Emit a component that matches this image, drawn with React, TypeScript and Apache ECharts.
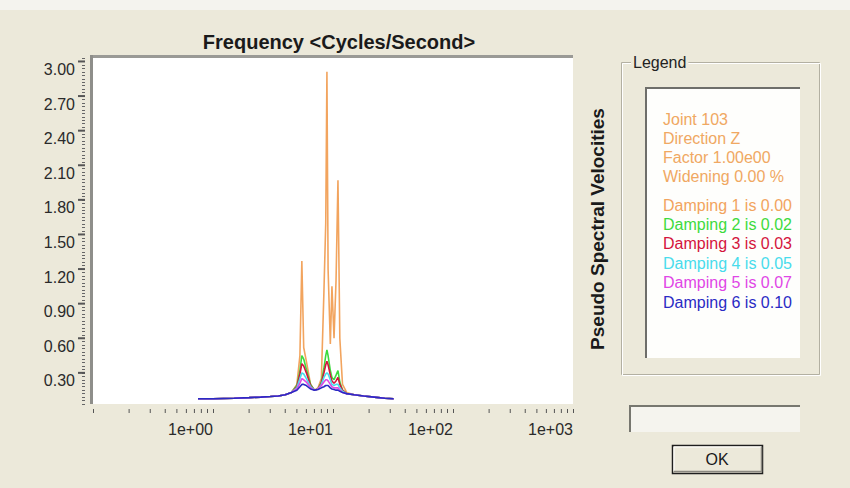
import React, { useEffect, useRef } from "react";
import * as echarts from "echarts";

// ---- data ----
const frequencies = [0.75, 1.0, 1.5, 2.0, 2.5, 3.0, 3.5, 4.0, 4.5, 5.0, 5.3, 5.5, 5.7, 6.0, 6.5, 7.0, 7.5, 8.0, 8.4, 8.7, 8.9, 9.1, 9.5, 9.8, 10.2, 10.6, 11.0, 11.4, 12, 13, 15, 18, 22, 27, 32];
const damping1 = [0.075, 0.075, 0.08, 0.085, 0.09, 0.095, 0.1, 0.11, 0.13, 0.2, 0.45, 1.27, 0.52, 0.4, 0.2, 0.15, 0.17, 0.25, 1.0, 1.6, 2.91, 1.2, 0.55, 1.05, 0.6, 1.1, 1.97, 0.6, 0.2, 0.13, 0.11, 0.1, 0.09, 0.08, 0.075];
const damping2 = [0.075, 0.075, 0.08, 0.085, 0.09, 0.095, 0.1, 0.11, 0.13, 0.19, 0.32, 0.45, 0.42, 0.33, 0.2, 0.15, 0.16, 0.22, 0.34, 0.45, 0.5, 0.45, 0.32, 0.26, 0.24, 0.28, 0.32, 0.22, 0.15, 0.12, 0.11, 0.1, 0.09, 0.08, 0.075];
const damping3 = [0.075, 0.075, 0.08, 0.085, 0.09, 0.095, 0.1, 0.11, 0.13, 0.18, 0.29, 0.38, 0.36, 0.3, 0.19, 0.15, 0.16, 0.21, 0.3, 0.37, 0.4, 0.37, 0.28, 0.23, 0.21, 0.23, 0.26, 0.2, 0.15, 0.12, 0.11, 0.1, 0.09, 0.08, 0.075];
const damping4 = [0.075, 0.075, 0.08, 0.085, 0.09, 0.095, 0.1, 0.11, 0.13, 0.17, 0.25, 0.3, 0.29, 0.25, 0.18, 0.15, 0.16, 0.2, 0.26, 0.29, 0.3, 0.29, 0.24, 0.2, 0.19, 0.2, 0.2, 0.17, 0.14, 0.12, 0.11, 0.1, 0.09, 0.08, 0.075];
const damping5 = [0.075, 0.075, 0.08, 0.085, 0.09, 0.095, 0.1, 0.11, 0.13, 0.16, 0.21, 0.25, 0.24, 0.22, 0.17, 0.15, 0.16, 0.19, 0.22, 0.24, 0.24, 0.23, 0.2, 0.18, 0.17, 0.17, 0.17, 0.15, 0.13, 0.12, 0.11, 0.1, 0.09, 0.08, 0.075];
const damping6 = [0.075, 0.075, 0.08, 0.085, 0.09, 0.095, 0.1, 0.11, 0.13, 0.15, 0.18, 0.2, 0.2, 0.19, 0.16, 0.15, 0.155, 0.17, 0.18, 0.19, 0.19, 0.19, 0.17, 0.16, 0.155, 0.15, 0.15, 0.14, 0.13, 0.12, 0.11, 0.1, 0.09, 0.08, 0.075];

const seriesNames = ["Damping 1 is 0.00", "Damping 2 is 0.02", "Damping 3 is 0.03", "Damping 4 is 0.05", "Damping 5 is 0.07", "Damping 6 is 0.10"];
const seriesValues = [damping1, damping2, damping3, damping4, damping5, damping6];
const seriesColors = ["#F2A45E", "#3DDA3D", "#D4143C", "#48DCEC", "#E046E6", "#2A2AC4"];
const headerLines = ["Joint 103", "Direction Z", "Factor 1.00e00", "Widening 0.00 %"];
const headerColor = "#F0A862";

const yLabelValues = [0.3, 0.6, 0.9, 1.2, 1.5, 1.8, 2.1, 2.4, 2.7, 3.0];
const decadeStarts = [0.1, 1, 10, 100];
const minorMultipliers = [2, 3, 4, 5, 6, 7, 8, 9];

const FONT = "'Liberation Sans', Arial, sans-serif";
const BG = "#ECE9DA";

export default function App() {
  const ref = useRef<HTMLDivElement>(null);
  useEffect(() => {
    if (!ref.current) return;
    const chart = echarts.init(ref.current, null, { renderer: "svg" });

    const minorTicks: number[][] = [];
    decadeStarts.forEach((d) => minorMultipliers.forEach((m) => minorTicks.push([d * m, 0.03])));

    const lineSeries = seriesValues.map((vals, i) => ({
      type: "line",
      name: seriesNames[i],
      data: frequencies.map((f, j) => [f, vals[j]]),
      showSymbol: false,
      symbol: "none",
      lineStyle: { width: 1.6, color: seriesColors[i] },
      itemStyle: { color: seriesColors[i] },
      z: 3 + i,
    }));

    const legendTexts: any[] = [];
    headerLines.forEach((t, i) => {
      legendTexts.push({
        type: "text",
        x: 663,
        y: 119 + i * 19.3,
        style: { text: t, fill: headerColor, font: `16px ${FONT}`, verticalAlign: "middle" },
      });
    });
    seriesNames.forEach((t, i) => {
      legendTexts.push({
        type: "text",
        x: 663,
        y: 205 + i * 19.4,
        style: { text: t, fill: seriesColors[i], font: `16px ${FONT}`, verticalAlign: "middle" },
      });
    });

    chart.setOption({
      animation: false,
      backgroundColor: BG,
      title: {
        text: "Frequency <Cycles/Second>",
        left: 334,
        top: 27,
        textAlign: "center",
        textStyle: { fontFamily: FONT, fontSize: 20, fontWeight: "bold", color: "#1a1a1a" },
      },
      grid: { left: 93, top: 58, width: 480, height: 346, show: true, backgroundColor: "#FFFFFF", borderWidth: 0 },
      xAxis: {
        type: "log",
        logBase: 10,
        min: 0.1,
        max: 1000,
        offset: 5,
        axisLine: { show: false },
        axisTick: { show: true, length: 4, lineStyle: { color: "#555", width: 1 } },
        splitLine: { show: false },
        axisLabel: {
          align: "right",
          margin: 12,
          fontFamily: FONT,
          fontSize: 16,
          color: "#2a2a2a",
          formatter: (v: number) => {
            const e = Math.round(Math.log10(v));
            if (e < 0) return "";
            return "1e+" + String(e).padStart(2, "0");
          },
        },
      },
      yAxis: {
        type: "value",
        min: 0.03,
        max: 3.03,
        interval: 0.03,
        offset: 8,
        axisLine: { show: false },
        axisTick: { show: true, length: 3, lineStyle: { color: "#666", width: 1 } },
        splitLine: { show: false },
        axisLabel: {
          margin: 10,
          verticalAlign: "top",
          fontFamily: FONT,
          fontSize: 16,
          color: "#2a2a2a",
          formatter: (v: number) => {
            const k = Math.round(v / 0.03);
            if (k % 10 !== 0 || k === 0 || k > 100) return "";
            return v.toFixed(2);
          },
        },
      },
      series: [
        ...lineSeries,
        {
          type: "custom",
          silent: true,
          z: 10,
          data: yLabelValues.map((v) => [0.1, v]),
          renderItem: (params: any, api: any) => {
            const p = api.coord([api.value(0), api.value(1)]);
            return {
              type: "line",
              shape: { x1: p[0] - 15, y1: p[1], x2: p[0] - 8, y2: p[1] },
              style: { stroke: "#555", lineWidth: 2 },
            };
          },
        },
        {
          type: "custom",
          silent: true,
          z: 10,
          data: minorTicks,
          renderItem: (params: any, api: any) => {
            const p = api.coord([api.value(0), api.value(1)]);
            return {
              type: "line",
              shape: { x1: p[0], y1: p[1] + 5, x2: p[0], y2: p[1] + 9 },
              style: { stroke: "#555", lineWidth: 1 },
            };
          },
        },
      ],
      graphic: [
        { type: "rect", shape: { x: 0, y: 0, width: 850, height: 10 }, style: { fill: "#F4F3EE" }, silent: true },
        { type: "rect", shape: { x: 90, y: 55, width: 483, height: 3 }, style: { fill: "#9A9A96" }, silent: true },
        { type: "rect", shape: { x: 90, y: 55, width: 3, height: 349 }, style: { fill: "#8E8E8A" }, silent: true },
        {
          type: "text",
          x: 597,
          y: 229,
          rotation: Math.PI / 2,
          style: {
            text: "Pseudo Spectral Velocities",
            font: `bold 19px ${FONT}`,
            fill: "#1a1a1a",
            align: "center",
            verticalAlign: "middle",
          },
        },
        // legend group box
        { type: "rect", shape: { x: 621.5, y: 62.5, width: 198, height: 312 }, style: { fill: "none", stroke: "#B3B0A2", lineWidth: 1 } },
        { type: "rect", shape: { x: 622.5, y: 63.5, width: 198, height: 312 }, style: { fill: "none", stroke: "#FFFFFF", lineWidth: 1 } },
        {
          type: "text",
          x: 631,
          y: 62,
          style: {
            text: "Legend",
            font: `16px ${FONT}`,
            fill: "#222",
            verticalAlign: "middle",
            backgroundColor: BG,
            padding: [0, 2, 0, 2],
          },
        },
        { type: "rect", shape: { x: 645, y: 87, width: 155, height: 271 }, style: { fill: "#FEFEFC" } },
        { type: "line", shape: { x1: 645, y1: 88, x2: 800, y2: 88 }, style: { stroke: "#6E6E6A", lineWidth: 2 } },
        { type: "line", shape: { x1: 646, y1: 87, x2: 646, y2: 358 }, style: { stroke: "#6E6E6A", lineWidth: 2 } },
        ...legendTexts,
        // progress box
        { type: "rect", shape: { x: 629, y: 405, width: 171, height: 27 }, style: { fill: "#F5F4EE" } },
        { type: "line", shape: { x1: 629, y1: 406, x2: 800, y2: 406 }, style: { stroke: "#77776F", lineWidth: 2 } },
        { type: "line", shape: { x1: 630, y1: 405, x2: 630, y2: 432 }, style: { stroke: "#77776F", lineWidth: 2 } },
        // OK button
        { type: "rect", shape: { x: 672.5, y: 445.5, width: 90, height: 28 }, style: { fill: BG, stroke: "#1E1E1E", lineWidth: 1.5 } },
        { type: "polyline", shape: { points: [[674, 471], [674, 447], [761, 447]] }, style: { stroke: "#FFFFFF", lineWidth: 1, fill: "none" } },
        { type: "polyline", shape: { points: [[674, 471.5], [761.5, 471.5], [761.5, 447]] }, style: { stroke: "#8A8880", lineWidth: 1.5, fill: "none" } },
        {
          type: "text",
          x: 717,
          y: 459,
          style: { text: "OK", font: `16px ${FONT}`, fill: "#1a1a1a", align: "center", verticalAlign: "middle" },
        },
      ],
    });
    return () => chart.dispose();
  }, []);
  return <div ref={ref} style={{ position: "fixed", left: 0, top: 0, width: 850, height: 488 }} />;
}
